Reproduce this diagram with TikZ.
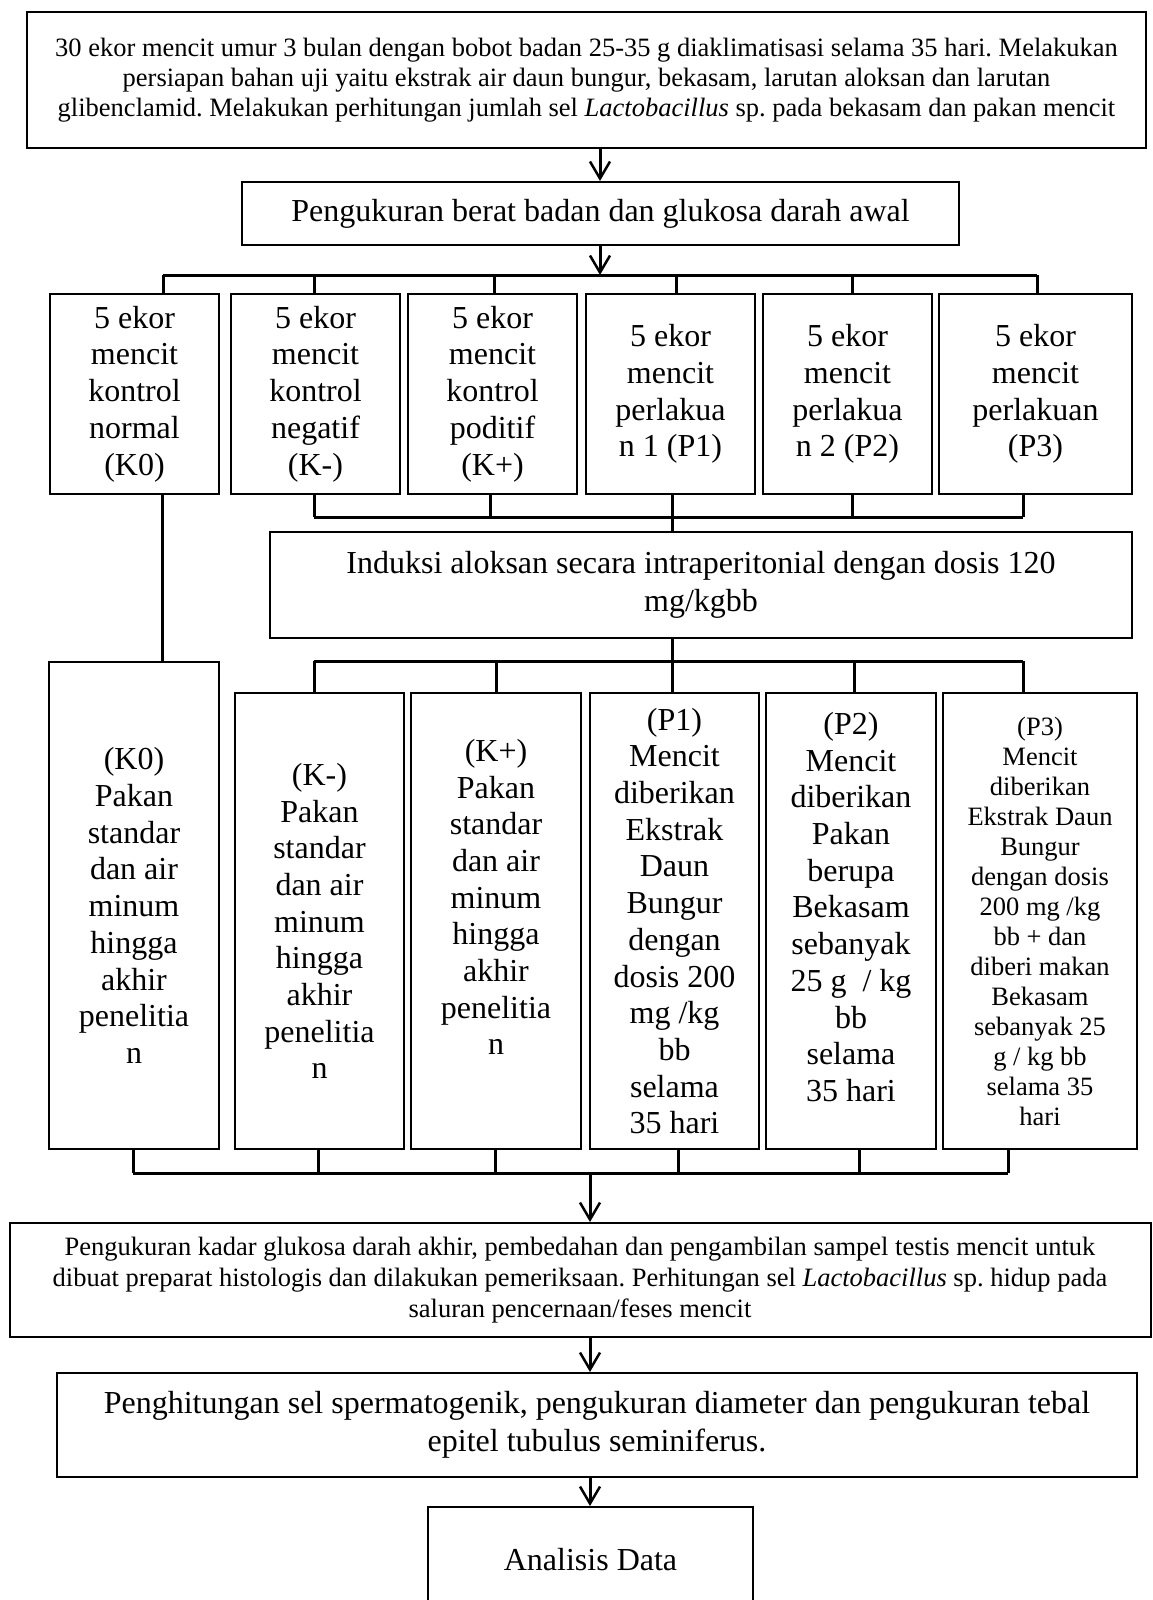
\documentclass[tikz,border=0pt]{standalone}
\usepackage{fontspec}
\setmainfont{Liberation Serif}
\usetikzlibrary{arrows.meta}
\frenchspacing
\begin{document}
\begin{tikzpicture}[x=1pt,y=-1pt,
  box/.style={draw, line width=2pt, rectangle, align=center, inner sep=0pt},
  ln/.style={line width=3pt},
  arr/.style={line width=3pt, -{Straight Barb[length=17pt,width=20pt,line width=2.5pt]}},
  fL/.style={font=\fontsize{32}{36.7}\selectfont},
  fM/.style={font=\fontsize{32}{38}\selectfont},
  fS/.style={font=\fontsize{26.5}{30}\selectfont},
  fP/.style={font=\fontsize{26.5}{30}\selectfont},
  rowA/.style={box, fL, minimum height=200pt},
  rowB/.style={box, fL, minimum height=456pt}
]
\useasboundingbox (0,0) rectangle (1152,1600);

% top boxes
\node[box, fS, line width=2.5pt, minimum width=1119pt, minimum height=136pt] (top) at (586.5,80)
 {30 ekor mencit umur 3 bulan dengan bobot badan 25-35 g diaklimatisasi selama 35 hari. Melakukan\\
  persiapan bahan uji yaitu ekstrak air daun bungur, bekasam, larutan aloksan dan larutan\\
  glibenclamid. Melakukan perhitungan jumlah sel \textit{Lactobacillus} sp. pada bekasam dan pakan mencit};
\node[box, fM, minimum width=717pt, minimum height=63pt] (b2) at (600.5,213.5)
 {Pengukuran berat badan dan glukosa darah awal};

% row 1
\node[rowA, minimum width=169pt] (K0) at (134.5,394) {5 ekor\\mencit\\kontrol\\normal\\(K0)};
\node[rowA, minimum width=169pt] (Km) at (315.5,394) {5 ekor\\mencit\\kontrol\\negatif\\(K-)};
\node[rowA, minimum width=169pt] (Kp) at (492.5,394) {5 ekor\\mencit\\kontrol\\poditif\\(K+)};
\node[rowA, minimum width=169pt] (P1) at (670.5,394) {5 ekor\\mencit\\perlakua\\n 1 (P1)};
\node[rowA, minimum width=169pt] (P2) at (847.5,394) {5 ekor\\mencit\\perlakua\\n 2 (P2)};
\node[rowA, minimum width=193pt] (P3) at (1035.5,394) {5 ekor\\mencit\\perlakuan\\(P3)};

% induksi
\node[box, fM, minimum width=862pt, minimum height=106pt] (ind) at (701,585)
 {Induksi aloksan secara intraperitonial dengan dosis 120\\mg/kgbb};

% row 2
\node[box, fL, minimum width=170pt, minimum height=487pt] (K0b) at (134,905.5)
 {(K0)\\Pakan\\standar\\dan air\\minum\\hingga\\akhir\\penelitia\\n};
\node[rowB, minimum width=169pt] (Kmb) at (319.5,921)
 {(K-)\\Pakan\\standar\\dan air\\minum\\hingga\\akhir\\penelitia\\n};
\node[rowB, minimum width=170pt] (Kpb) at (496,921) {};
\node[fL, align=center, inner sep=0pt, yshift=24pt] (Kpt) at (Kpb.center)
 {(K+)\\Pakan\\standar\\dan air\\minum\\hingga\\akhir\\penelitia\\n};
\node[rowB, minimum width=169pt] (P1b) at (674.5,921)
 {(P1)\\Mencit\\diberikan\\Ekstrak\\Daun\\Bungur\\dengan\\dosis 200\\mg /kg\\bb\\selama\\35 hari};
\node[rowB, minimum width=170pt] (P2b) at (851,921) {};
\node[fL, align=center, inner sep=0pt, yshift=14pt] (P2t) at (P2b.center)
 {(P2)\\Mencit\\diberikan\\Pakan\\berupa\\Bekasam\\sebanyak\\25 g\ \ / kg\\bb\\selama\\35 hari};
\node[box, fP, minimum width=194pt, minimum height=456pt] (P3b) at (1040,921)
 {(P3)\\Mencit\\diberikan\\Ekstrak Daun\\Bungur\\dengan dosis\\200 mg /kg\\bb + dan\\diberi makan\\Bekasam\\sebanyak 25\\g / kg bb\\selama 35\\hari};

% bottom boxes
\node[box, font=\fontsize{26.5}{31}\selectfont, minimum width=1141pt, minimum height=114pt] (meas) at (580,1280)
 {Pengukuran kadar glukosa darah akhir, pembedahan dan pengambilan sampel testis mencit untuk\\
  dibuat preparat histologis dan dilakukan pemeriksaan. Perhitungan sel \textit{Lactobacillus} sp. hidup pada\\
  saluran pencernaan/feses mencit};
\node[box, fM, minimum width=1080pt, minimum height=104pt] (count) at (597,1425)
 {Penghitungan sel spermatogenik, pengukuran diameter dan pengukuran tebal\\epitel tubulus seminiferus.};
\node[box, fM, minimum width=325pt, minimum height=106pt] (ana) at (590.5,1560) {Analisis Data};

% coordinates for bars
\coordinate (a1) at (600,275);
\coordinate (t1a) at (163,275);  \coordinate (t1b) at (314,275);
\coordinate (t1c) at (494,275);  \coordinate (t1d) at (676,275);
\coordinate (t1e) at (852,275);  \coordinate (t1f) at (1037,275);

\coordinate (t2a) at (314,517);  \coordinate (t2b) at (490,517);
\coordinate (t2c) at (672,517);  \coordinate (t2d) at (852,517);
\coordinate (t2e) at (1023,517);

\coordinate (t3a) at (314,661);  \coordinate (t3b) at (496,661);
\coordinate (t3c) at (672,661);  \coordinate (t3d) at (854,661);
\coordinate (t3e) at (1023,661);

\coordinate (t4a) at (133,1173); \coordinate (t4b) at (318,1173);
\coordinate (t4c) at (495,1173); \coordinate (t4d) at (678,1173);
\coordinate (t4e) at (859,1173); \coordinate (t4f) at (1008,1173);
\coordinate (a4) at (590,1173);
\coordinate (k0l) at (162,494);

% arrows top
\draw[arr] (top.south -| a1) -- (b2.north -| a1);
\draw[arr] (b2.south -| a1) -- (a1);

% bar 1
\draw[ln] (t1a) -- (t1f);
\foreach \t/\n in {t1a/K0,t1b/Km,t1c/Kp,t1d/P1,t1e/P2,t1f/P3}
  \draw[ln] (\t) -- (\t |- \n.north);

% bar 2
\draw[ln] (t2a) -- (t2e);
\foreach \t/\n in {t2a/Km,t2b/Kp,t2c/P1,t2d/P2,t2e/P3}
  \draw[ln] (\t) -- (\t |- \n.south);
\draw[ln] (t2c) -- (t2c |- ind.north);

% K0 line
\draw[ln] (k0l |- K0.south) -- (k0l |- K0b.north);

% bar 3
\draw[ln] (t3a) -- (t3e);
\draw[ln] (t3c |- ind.south) -- (t3c);
\foreach \t/\n in {t3a/Kmb,t3b/Kpb,t3c/P1b,t3d/P2b,t3e/P3b}
  \draw[ln] (\t) -- (\t |- \n.north);

% bar 4
\draw[ln] (t4a) -- (t4f);
\foreach \t/\n in {t4a/K0b,t4b/Kmb,t4c/Kpb,t4d/P1b,t4e/P2b,t4f/P3b}
  \draw[ln] (\t) -- (\t |- \n.south);
\draw[arr] (a4) -- (a4 |- meas.north);
\draw[arr] (meas.south -| a4) -- (count.north -| a4);
\draw[arr] (count.south -| a4) -- (ana.north -| a4);
\end{tikzpicture}
\end{document}
